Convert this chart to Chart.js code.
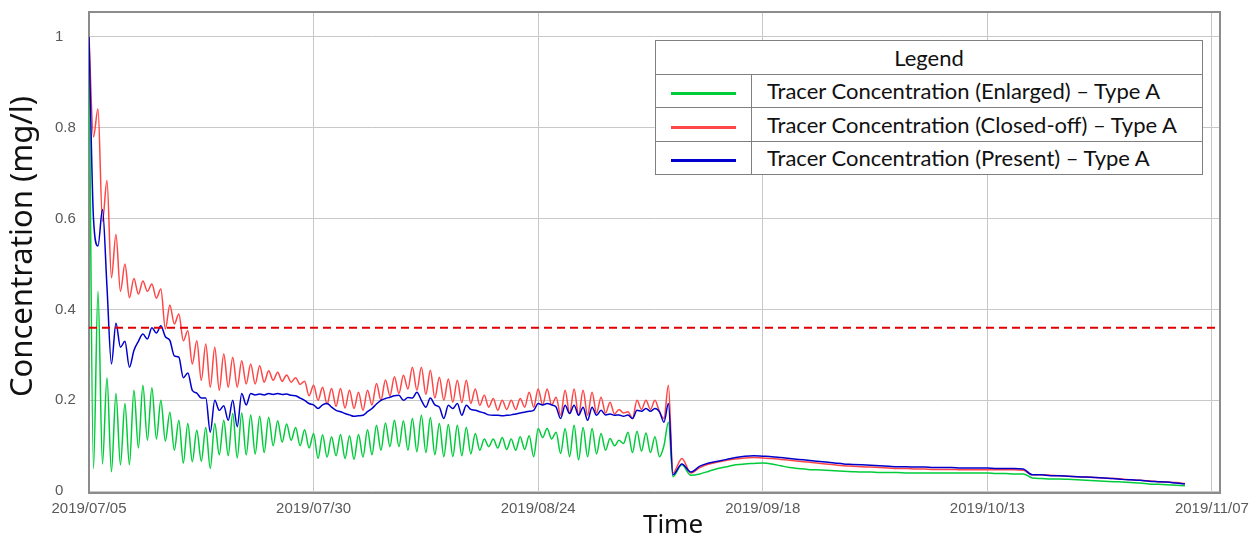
<!DOCTYPE html>
<html>
<head>
<meta charset="utf-8">
<script src="https://cdn.jsdelivr.net/npm/chart.js@4.4.1/dist/chart.umd.min.js"></script>
<style>
    body { margin: 0; background: #fff; }
    #wrap { position: relative; width: 1257px; height: 543px; }
    #legendBox {
        position: absolute; left: 655px; top: 40px; width: 548px;
        border-collapse: collapse; background: #fff;
        font-family: Lato, "Noto Sans", sans-serif; font-size: 22px; color: #111;
    }
    #legendBox th, #legendBox td { border: 1.5px solid #7f7f7f; padding: 0; height: 32.5px; }
    #legendBox th { font-weight: normal; text-align: center; }
    #legendBox td.sample { width: 95px; text-align: center; }
    #legendBox td.name { padding-left: 15px; }
    .swatch { display: inline-block; width: 65px; height: 3px; vertical-align: middle; }
</style>
</head>
<body>
<div id="wrap">
    <canvas id="concChart"></canvas>
    <table id="legendBox"></table>
</div>
<script>
// time axis: days after 2019/07/05
const tickDays = [0, 25, 50, 75, 100, 125];
const tickLabels = ["2019/07/05", "2019/07/30", "2019/08/24", "2019/09/18", "2019/10/13", "2019/11/07"];
const yTicks = [0, 0.2, 0.4, 0.6, 0.8, 1];
const yTickLabels = ["0", "0.2", "0.4", "0.6", "0.8", "1"];

const seriesNames = [
    "Tracer Concentration (Enlarged) \u2013 Type A",
    "Tracer Concentration (Closed-off) \u2013 Type A",
    "Tracer Concentration (Present) \u2013 Type A"
];
const threshold = 0.36;

// 12-hourly samples from day 0 to day 64.5 (tidal part)
const oscStep = 0.5;
// daily samples from day 65 to day 122 (after the drop)
const tailStart = 65;

const enlargedOsc = [
    1.0, 0.05, 0.44, 0.06, 0.25, 0.043, 0.215, 0.058, 0.193, 0.058,
    0.222, 0.095, 0.233, 0.112, 0.228, 0.115, 0.2, 0.11, 0.174, 0.09,
    0.156, 0.062, 0.149, 0.065, 0.134, 0.066, 0.14, 0.05, 0.149, 0.08,
    0.156, 0.078, 0.171, 0.073, 0.172, 0.08, 0.168, 0.082, 0.165, 0.085,
    0.163, 0.1, 0.155, 0.108, 0.148, 0.112, 0.14, 0.1, 0.135, 0.095,
    0.127, 0.072, 0.124, 0.075, 0.12, 0.078, 0.125, 0.072, 0.122, 0.07,
    0.125, 0.075, 0.135, 0.08, 0.145, 0.09, 0.15, 0.098, 0.156, 0.098,
    0.155, 0.09, 0.16, 0.087, 0.167, 0.085, 0.162, 0.08, 0.149, 0.076,
    0.147, 0.076, 0.145, 0.078, 0.141, 0.082, 0.127, 0.09, 0.115, 0.098,
    0.115, 0.095, 0.118, 0.092, 0.115, 0.09, 0.12, 0.092, 0.122, 0.076,
    0.138, 0.118, 0.138, 0.115, 0.13, 0.083, 0.138, 0.076, 0.145, 0.069,
    0.14, 0.076, 0.138, 0.082, 0.127, 0.09, 0.116, 0.1, 0.112, 0.105,
    0.13, 0.085, 0.132, 0.088, 0.128, 0.085, 0.12, 0.076, 0.1, 0.152
];
const closedOsc = [
    1.0, 0.78, 0.842, 0.594, 0.684, 0.47, 0.565, 0.44, 0.5, 0.426,
    0.468, 0.434, 0.463, 0.44, 0.456, 0.425, 0.445, 0.357, 0.41, 0.368,
    0.39, 0.331, 0.353, 0.28, 0.331, 0.244, 0.324, 0.229, 0.317, 0.222,
    0.302, 0.229, 0.295, 0.229, 0.287, 0.236, 0.28, 0.236, 0.276, 0.24,
    0.265, 0.244, 0.262, 0.242, 0.256, 0.24, 0.25, 0.235, 0.242, 0.21,
    0.233, 0.2, 0.229, 0.192, 0.226, 0.187, 0.226, 0.183, 0.222, 0.182,
    0.218, 0.178, 0.222, 0.19, 0.237, 0.2, 0.245, 0.21, 0.252, 0.215,
    0.255, 0.225, 0.273, 0.222, 0.273, 0.213, 0.266, 0.205, 0.251, 0.2,
    0.247, 0.196, 0.244, 0.195, 0.244, 0.193, 0.225, 0.189, 0.211, 0.185,
    0.204, 0.178, 0.2, 0.18, 0.2, 0.18, 0.204, 0.185, 0.218, 0.185,
    0.225, 0.19, 0.225, 0.19, 0.207, 0.167, 0.222, 0.171, 0.225, 0.167,
    0.222, 0.167, 0.218, 0.172, 0.207, 0.172, 0.196, 0.17, 0.18, 0.172,
    0.175, 0.16, 0.2, 0.18, 0.2, 0.18, 0.2, 0.175, 0.16, 0.233
];
const presentOsc = [
    1.0, 0.6, 0.54, 0.62, 0.45, 0.28, 0.37, 0.317, 0.33, 0.273,
    0.31, 0.33, 0.346, 0.335, 0.36, 0.348, 0.364, 0.34, 0.332, 0.298,
    0.295, 0.25, 0.26, 0.222, 0.216, 0.205, 0.205, 0.13, 0.2, 0.178,
    0.188, 0.156, 0.2, 0.142, 0.215, 0.19, 0.215, 0.212, 0.214, 0.212,
    0.215, 0.213, 0.215, 0.213, 0.214, 0.211, 0.21, 0.205, 0.2, 0.193,
    0.19, 0.182, 0.19, 0.193, 0.185, 0.178, 0.175, 0.171, 0.168, 0.165,
    0.166, 0.167, 0.175, 0.182, 0.192, 0.2, 0.204, 0.207, 0.21, 0.211,
    0.2, 0.206, 0.205, 0.218, 0.2, 0.185, 0.205, 0.19, 0.185, 0.16,
    0.189, 0.182, 0.193, 0.167, 0.189, 0.18, 0.178, 0.175, 0.172, 0.168,
    0.167, 0.167, 0.166, 0.167, 0.168, 0.17, 0.172, 0.174, 0.176, 0.178,
    0.193, 0.19, 0.193, 0.19, 0.185, 0.16, 0.189, 0.171, 0.189, 0.167,
    0.185, 0.156, 0.185, 0.167, 0.178, 0.168, 0.17, 0.167, 0.168, 0.165,
    0.168, 0.16, 0.178, 0.176, 0.182, 0.176, 0.182, 0.175, 0.152, 0.193
];

const enlargedTail = [
    0.032, 0.058, 0.035, 0.038, 0.044, 0.05, 0.054, 0.058, 0.06, 0.061,
    0.062, 0.06, 0.056, 0.052, 0.05, 0.048, 0.047, 0.046, 0.045, 0.044,
    0.043, 0.042, 0.042, 0.041, 0.041, 0.041, 0.04, 0.04, 0.04, 0.04,
    0.04, 0.04, 0.04, 0.04, 0.04, 0.04, 0.039, 0.039, 0.038, 0.038,
    0.029, 0.028, 0.027, 0.027, 0.026, 0.025, 0.024, 0.023, 0.022, 0.021,
    0.02, 0.019, 0.018, 0.016, 0.015, 0.014, 0.013, 0.012
];
const closedTail = [
    0.04, 0.072, 0.04, 0.052, 0.06, 0.064, 0.068, 0.071, 0.073, 0.074,
    0.073, 0.072, 0.07, 0.068, 0.066, 0.064, 0.062, 0.06, 0.058, 0.056,
    0.055, 0.054, 0.053, 0.052, 0.051, 0.05, 0.05, 0.049, 0.049, 0.048,
    0.048, 0.048, 0.047, 0.047, 0.047, 0.047, 0.047, 0.047, 0.047, 0.046,
    0.036, 0.036, 0.035, 0.034, 0.033, 0.032, 0.031, 0.03, 0.029, 0.028,
    0.027, 0.025, 0.024, 0.023, 0.021, 0.02, 0.019, 0.017
];
const presentTail = [
    0.036, 0.06, 0.042, 0.055, 0.062, 0.066, 0.07, 0.074, 0.077, 0.078,
    0.077, 0.076, 0.074, 0.072, 0.07, 0.068, 0.066, 0.064, 0.062, 0.06,
    0.059, 0.058, 0.057, 0.056, 0.055, 0.054, 0.054, 0.053, 0.053, 0.052,
    0.052, 0.052, 0.051, 0.051, 0.051, 0.051, 0.05, 0.05, 0.05, 0.049,
    0.036, 0.036, 0.034, 0.034, 0.033, 0.032, 0.031, 0.03, 0.029, 0.028,
    0.026, 0.025, 0.024, 0.022, 0.021, 0.02, 0.018, 0.016
];

const xMin = 0, xMax = 125.9;
const yMin = -0.004, yMax = 1.055;
const colors = ["#00cc3a", "#ff4646", "#0000cc"];

function toPoints(osc, tail) {
    let pts = osc.map((v, i) => ({ x: i * oscStep, y: v }));
    return pts.concat(tail.map((v, i) => ({ x: tailStart + i, y: v })));
}

// grey frame round the plot area
const plotFrame = {
    id: "plotFrame",
    beforeDatasetsDraw(chart) {
        const { ctx, chartArea: a } = chart;
        ctx.save();
        ctx.strokeStyle = "#8c8c8c";
        ctx.lineWidth = 2;
        ctx.strokeRect(a.left, a.top, a.right - a.left, a.bottom - a.top);
        ctx.restore();
    }
};

// axis titles, drawn by hand so they sit where the original has them
const axisTitles = {
    id: "axisTitles",
    afterDraw(chart) {
        const { ctx, chartArea: a } = chart;
        ctx.save();
        ctx.fillStyle = "#111";
        ctx.textAlign = "center";
        ctx.textBaseline = "middle";
        ctx.font = '26px "Noto Sans"';
        ctx.fillText("Time", 673, 526);
        ctx.translate(23, (a.top + a.bottom) / 2 - 6);
        ctx.rotate(-Math.PI / 2);
        ctx.font = '31px "Noto Sans"';
        ctx.fillText("Concentration (mg/l)", 0, 0);
        ctx.restore();
    }
};

const tickFont = { family: '"Liberation Sans", Arial, sans-serif', size: 15 };

let ctx = document.getElementById("concChart").getContext("2d");
let concChart = new Chart(ctx, {
    type: "line",
    data: {
        datasets: [
            {
                label: "limit",
                data: [{ x: xMin, y: threshold }, { x: xMax, y: threshold }],
                borderColor: "#e00000",
                borderWidth: 2,
                borderDash: [8, 5],
                order: 0
            },
            { label: seriesNames[2], data: toPoints(presentOsc, presentTail), borderColor: colors[2], order: 1 },
            { label: seriesNames[1], data: toPoints(closedOsc, closedTail), borderColor: colors[1], order: 2 },
            { label: seriesNames[0], data: toPoints(enlargedOsc, enlargedTail), borderColor: colors[0], order: 3 }
        ]
    },
    options: {
        animation: false,
        responsive: true,
        maintainAspectRatio: false,
        devicePixelRatio: 1,
        layout: { padding: { left: 55, right: 37, top: 10, bottom: 0 } },
        elements: {
            line: { borderWidth: 1.5, cubicInterpolationMode: "monotone" },
            point: { radius: 0 }
        },
        plugins: { legend: { display: false }, tooltip: { enabled: false } },
        scales: {
            x: {
                type: "linear",
                min: xMin,
                max: xMax,
                afterBuildTicks: (s) => { s.ticks = tickDays.map(v => ({ value: v })); },
                afterFit: (s) => { s.height = 50; },
                ticks: {
                    callback: (v, i) => tickLabels[i],
                    color: "#595959",
                    font: tickFont,
                    padding: 7,
                    maxRotation: 0,
                    autoSkip: false
                },
                grid: { color: "#c8c8c8", drawTicks: false },
                border: { display: false }
            },
            y: {
                min: yMin,
                max: yMax,
                afterBuildTicks: (s) => { s.ticks = yTicks.map(v => ({ value: v })); },
                afterFit: (s) => { s.width = 34; },
                ticks: {
                    callback: (v, i) => yTickLabels[i],
                    color: "#595959",
                    font: tickFont,
                    crossAlign: "far"
                },
                grid: { color: "#c8c8c8", drawTicks: false },
                border: { display: false }
            }
        }
    },
    plugins: [plotFrame, axisTitles]
});

// table legend like the original
function buildLegend() {
    let html = '<tr><th colspan="2">Legend</th></tr>';
    for (let i = 0; i < seriesNames.length; i++) {
        html += '<tr><td class="sample"><span class="swatch" style="background:' + colors[i] + '"></span></td>' +
                '<td class="name">' + seriesNames[i] + '</td></tr>';
    }
    document.getElementById("legendBox").innerHTML = html;
}
buildLegend();
</script>
</body>
</html>
